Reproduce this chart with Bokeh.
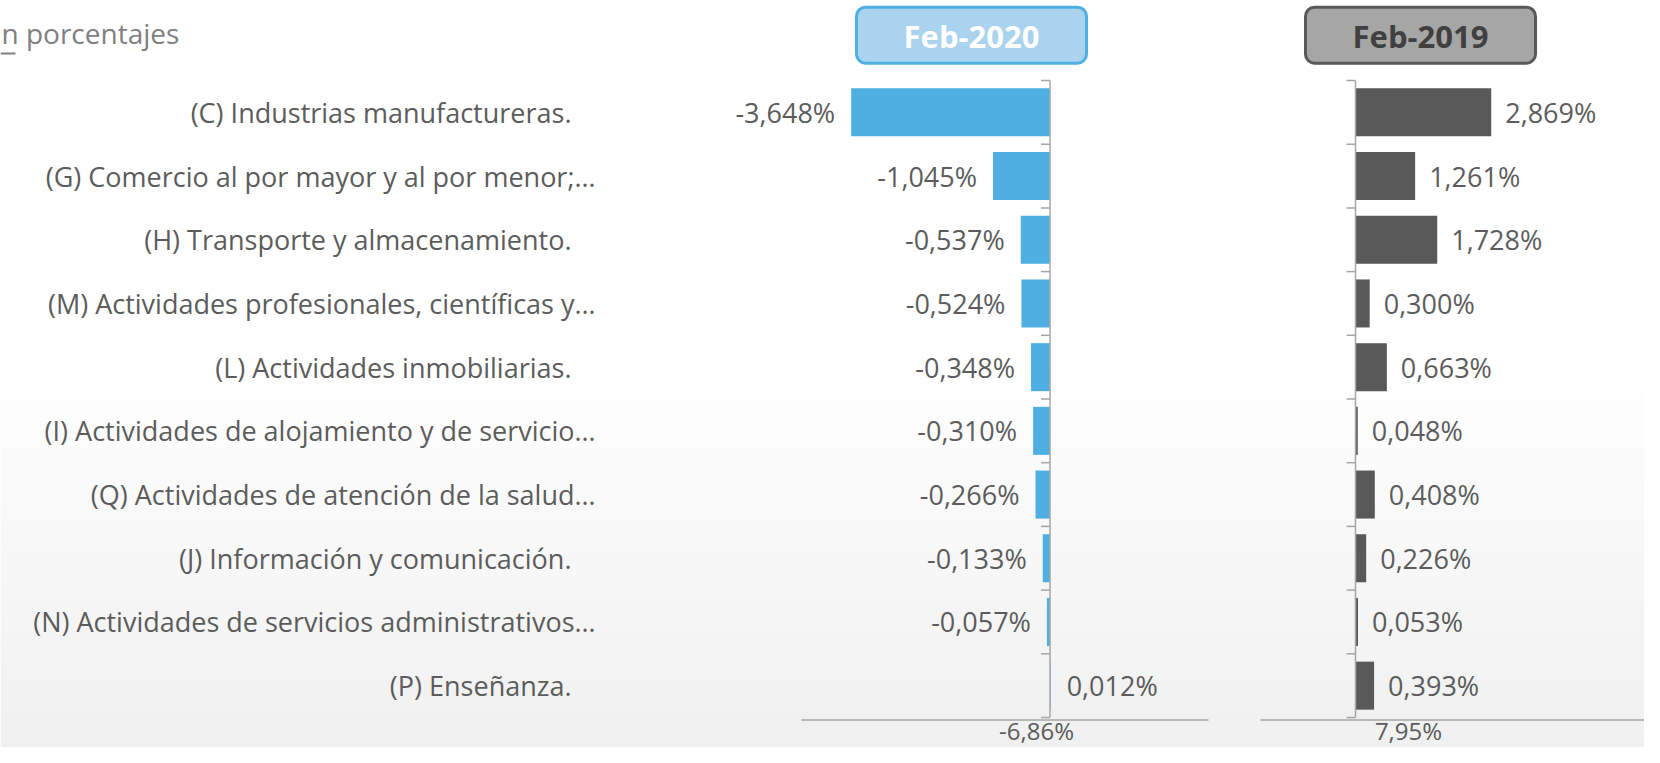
import numpy as np
from bokeh.plotting import figure
from bokeh.models import Range1d, ColumnDataSource
from bokeh.core.properties import value
from bokeh.embed import file_html
from bokeh.resources import INLINE

# ---------------- data ----------------
categories = [
    "(C) Industrias manufactureras.",
    "(G) Comercio al por mayor y al por menor;\u2026",
    "(H) Transporte y almacenamiento.",
    "(M) Actividades profesionales, científicas y\u2026",
    "(L) Actividades inmobiliarias.",
    "(I) Actividades de alojamiento y de servicio\u2026",
    "(Q) Actividades de atención de la salud\u2026",
    "(J) Información y comunicación.",
    "(N) Actividades de servicios administrativos\u2026",
    "(P) Enseñanza.",
]
feb_2020 = [-3.648, -1.045, -0.537, -0.524, -0.348, -0.310, -0.266, -0.133, -0.057, 0.012]
feb_2019 = [2.869, 1.261, 1.728, 0.300, 0.663, 0.048, 0.408, 0.226, 0.053, 0.393]
period_labels = ["Feb-2020", "Feb-2019"]
totals = [-6.86, 7.95]
title_text = "n porcentajes"

# ---------------- layout / style ----------------
W, H = 1644, 747
FONT = value("Open Sans")
TXT = "#5c5c5c"
BLUE = "#4FAEE2"
DARK = "#595959"
AXC = "#A6A6A6"

Y0 = 80.0      # top of first category band (px)
BAND = 63.7    # band height (px)
Z20, S20 = 1049.5, 54.5   # zero position (px) and px per % for Feb-2020 panel
Z19, S19 = 1355.0, 47.3   # same for Feb-2019 panel

p = figure(width=W, height=H, output_backend="svg", toolbar_location=None,
           x_range=Range1d(0, W), y_range=Range1d((H - Y0) / BAND, -Y0 / BAND),
           x_axis_type=None, y_axis_type=None, min_border=0,
           outline_line_color=None, background_fill_color="white",
           border_fill_color="white")
p.grid.visible = False
p.extra_x_ranges = {
    "r20": Range1d(-Z20 / S20, (W - Z20) / S20),
    "r19": Range1d(-Z19 / S19, (W - Z19) / S19),
}
p.extra_y_ranges = {"px": Range1d(H, 0)}

# soft background gradient toward the bottom
g0, g1, nb = 360.0, float(H), 40
edges = np.linspace(g0, g1, nb + 1)
cols = []
for k in range(nb):
    t = (k + 0.5) / nb
    c = int(round(255 - 15 * t))
    cols.append("#%02x%02x%02x" % (c, c, c))
p.quad(left=0, right=W, top=edges[:-1], bottom=edges[1:] + 0.5, fill_color=cols,
       line_color=None, y_range_name="px")

n = len(categories)
yc = np.arange(n) + 0.5

def fmt(v):
    return ("%.3f%%" % v).replace(".", ",")

src = ColumnDataSource(dict(
    y=yc, cat=categories,
    v20=feb_2020, v19=feb_2019,
    t20=[fmt(v) for v in feb_2020], t19=[fmt(v) for v in feb_2019],
    a20=["right" if v < 0 else "left" for v in feb_2020],
    o20=[-16 if v < 0 else 16 for v in feb_2020],
    a19=["right" if v < 0 else "left" for v in feb_2019],
    o19=[-14 if v < 0 else 14 for v in feb_2019],
    lo=[0 if c.endswith("\u2026") else -24 for c in categories],
))

# category labels
p.text(x=595, y="y", text="cat", source=src, text_align="right", text_baseline="middle",
       x_offset="lo", text_font=FONT, text_font_size="27px", text_color=TXT)

# bars
p.hbar(y="y", left=0, right="v20", height=0.754, source=src, x_range_name="r20",
       fill_color=BLUE, line_color=None)
p.hbar(y="y", left=0, right="v19", height=0.754, source=src, x_range_name="r19",
       fill_color=DARK, line_color=None)

# value labels
p.text(x="v20", y="y", text="t20", source=src, x_range_name="r20", text_align="a20",
       x_offset="o20", text_baseline="middle", text_font=FONT, text_font_size="27px",
       text_color=TXT)
p.text(x="v19", y="y", text="t19", source=src, x_range_name="r19", text_align="a19",
       x_offset="o19", text_baseline="middle", text_font=FONT, text_font_size="27px",
       text_color=TXT)

# category axes (vertical line + ticks) for each panel
ticks = np.arange(n + 1)
for rn, s in (("r20", S20), ("r19", S19)):
    p.segment(x0=[0], y0=[0], x1=[0], y1=[n], x_range_name=rn, line_color=AXC, line_width=1.5)
    p.segment(x0=-9.0 / s, y0=ticks, x1=0, y1=ticks, x_range_name=rn, line_color=AXC,
              line_width=1.5)

# bottom rules and totals
p.segment(x0=[801, 1260], y0=[719.5, 719.5], x1=[1208, W], y1=[719.5, 719.5],
          y_range_name="px", line_color=AXC, line_width=1.5)
p.text(x=[1036, 1408], y=[746, 746], text=[("%.2f%%" % t).replace(".", ",") for t in totals],
       y_range_name="px", text_align="center", text_baseline="bottom", text_font=FONT,
       text_font_size="24px", text_color=TXT)

# period header boxes
p.quad(left=[856, 1305], right=[1086, 1535], top=[6.7, 6.7], bottom=[62.7, 62.7],
       y_range_name="px", fill_color=["#A9D3EE", "#A6A6A6"], line_color=[BLUE, DARK],
       line_width=3, border_radius=9)
p.text(x=[971, 1420], y=[35, 35], text=period_labels, y_range_name="px",
       text_align="center", text_baseline="middle", text_font=FONT, text_font_size="31px",
       text_font_style="bold", text_color=["#FFFFFF", "#404040"])

# title fragment
p.text(x=[1], y=[32], text=[title_text], y_range_name="px", text_align="left",
       text_baseline="middle", text_font=FONT, text_font_size="28px", text_color="#808080")
p.segment(x0=[0], y0=[53], x1=[15], y1=[53], y_range_name="px", line_color="#808080",
          line_width=2)

open("out.html", "w").write(file_html(p, INLINE))
